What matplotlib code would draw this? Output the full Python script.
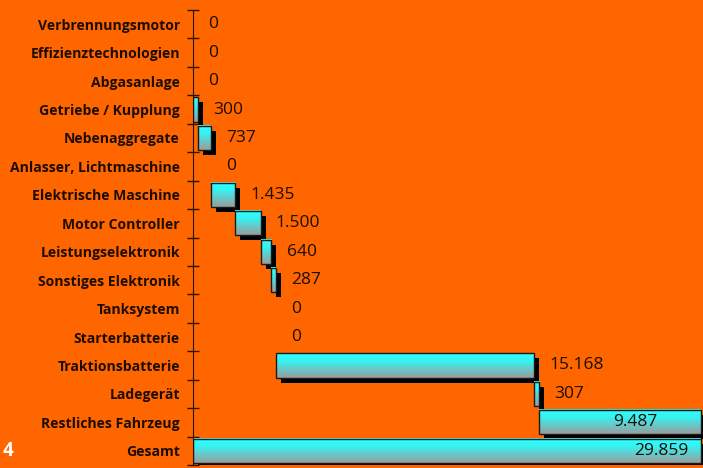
#!/usr/bin/env python3
"""Waterfall of added costs per component, orange slide style."""

import matplotlib

matplotlib.use("Agg")
import matplotlib.pyplot as plt
import numpy as np
from matplotlib.colors import LinearSegmentedColormap
from matplotlib.transforms import offset_copy

CATEGORIES = [
    "Verbrennungsmotor",
    "Effizienztechnologien",
    "Abgasanlage",
    "Getriebe / Kupplung",
    "Nebenaggregate",
    "Anlasser, Lichtmaschine",
    "Elektrische Maschine",
    "Motor Controller",
    "Leistungselektronik",
    "Sonstiges Elektronik",
    "Tanksystem",
    "Starterbatterie",
    "Traktionsbatterie",
    "Ladegerät",
    "Restliches Fahrzeug",
    "Gesamt",
]
VALUES = [0, 0, 0, 300, 737, 0, 1435, 1500, 640, 287, 0, 0, 15168, 307, 9487, 29859]
INSIDE_LABELS = {"Restliches Fahrzeug": -31, "Gesamt": -9}

ORANGE = "#ff6600"
TEXT = "#1c0d00"
FONT = ["Open Sans", "DejaVu Sans"]


def german(v: int) -> str:
    return f"{v:,}".replace(",", ".")


def main() -> None:
    plt.rcParams["font.family"] = FONT
    fig = plt.figure(figsize=(7.03, 4.68), dpi=100, facecolor=ORANGE)
    ax = fig.add_axes([193 / 703, 3 / 468, 510 / 703, 455 / 468], facecolor=ORANGE)

    values = np.asarray(VALUES, dtype=float)
    lefts = np.concatenate([[0], np.cumsum(values[:-1])])
    lefts[-1] = 0  # total bar starts at zero
    y = np.arange(len(CATEGORIES))
    h = 0.85
    drawn = values > 0

    shadow_tf = offset_copy(ax.transData, fig=fig, x=5, y=-5, units="dots")
    shadows = ax.barh(y[drawn], values[drawn], left=lefts[drawn], height=h,
                      color="black", linewidth=0, zorder=1)
    for r in shadows:
        r.set_transform(shadow_tf)

    cmap = LinearSegmentedColormap.from_list(
        "bar", [(0, "#30ffff"), (0.3, "#34f4f4"), (1, "#9c9c9c")])
    grad = np.linspace(0, 1, 128).reshape(-1, 1)
    for yi, left, w in zip(y[drawn], lefts[drawn], values[drawn]):
        ax.imshow(grad, cmap=cmap, aspect="auto", interpolation="nearest",
                  extent=(left, left + w, yi + h / 2, yi - h / 2), zorder=2)

    ax.barh(y[drawn], values[drawn], left=lefts[drawn], height=h, fill=False,
            edgecolor="#1a1a1a", linewidth=1.0, zorder=3)

    for name, yi, left, v in zip(CATEGORIES, y, lefts, values):
        end = left + v
        if name in INSIDE_LABELS:
            ax.annotate(german(int(v)), (end, yi), xytext=(INSIDE_LABELS[name], 0),
                        textcoords="offset points", ha="right", va="center",
                        fontsize=12.5, color=TEXT, zorder=4)
        else:
            ax.annotate(german(int(v)), (end, yi), xytext=(11, 0),
                        textcoords="offset points", ha="left", va="center",
                        fontsize=12.5, color=TEXT, zorder=4)

    ax.set_xlim(0, 30000)
    ax.set_ylim(len(CATEGORIES) - 0.5, -0.5)
    ax.set_yticks(y)
    ax.set_yticklabels(CATEGORIES, fontweight="bold", fontsize=10.1, color=TEXT)
    ax.set_yticks(np.arange(len(CATEGORIES) + 1) - 0.5, minor=True)
    ax.tick_params(axis="y", which="major", length=0, pad=9.5)
    ax.tick_params(axis="y", which="minor", direction="inout", length=8,
                   width=1, color="#2a1000")
    ax.set_xticks([])
    for side in ("top", "right", "bottom"):
        ax.spines[side].set_visible(False)
    ax.spines["left"].set_color("#2a1000")
    ax.spines["left"].set_zorder(5)

    fig.text(3 / 703, 1 - 451 / 468, "4", color="white", fontweight="bold",
             fontsize=13.5, ha="left", va="center")

    fig.savefig("out.png", dpi=100, facecolor=ORANGE)
    plt.close(fig)


if __name__ == "__main__":
    main()
